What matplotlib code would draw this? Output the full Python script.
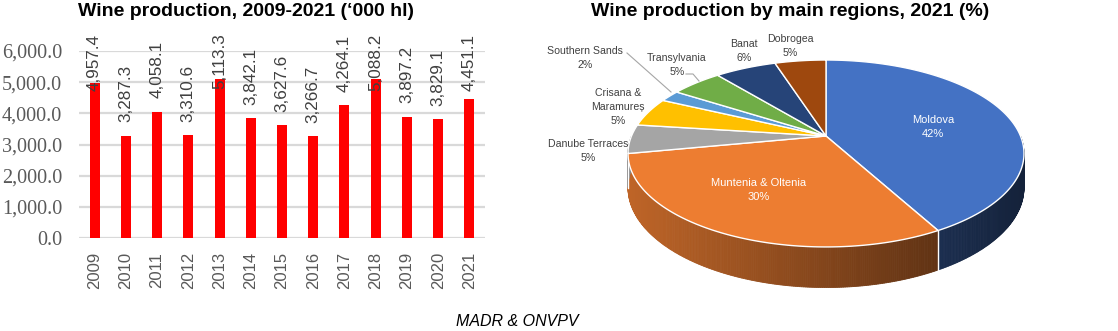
import numpy as np
import matplotlib.pyplot as plt
from matplotlib.ticker import FuncFormatter

# Bar chart data
years = [2009, 2010, 2011, 2012, 2013, 2014, 2015, 2016, 2017, 2018, 2019, 2020, 2021]
production = [4957.4, 3287.3, 4058.1, 3310.6, 5113.3, 3842.1, 3627.6, 3266.7,
              4264.1, 5088.2, 3897.2, 3829.1, 4451.1]

# Pie chart data
regions = ['Moldova', 'Muntenia & Oltenia', 'Danube Terraces', 'Crisana &\nMaramureș',
           'Southern Sands', 'Transylvania', 'Banat', 'Dobrogea']
shares = [42, 30, 5, 5, 2, 5, 6, 5]

# styles
pie_colors = ['#4472C4', '#ED7D31', '#A5A5A5', '#FFC000', '#5B9BD5', '#70AD47', '#264478', '#9E480E']
label_pos = [(933, 127), (759, 190), (588, 151), (618, 107), (585, 58), (677, 65), (744, 51), (790, 46)]
label_inside = [True, True, False, False, False, False, False, False]

W, H = 1118, 331
fig = plt.figure(figsize=(W / 100, H / 100), dpi=100)
sans = ['Liberation Sans', 'DejaVu Sans']

# full-figure overlay in pixel units (titles, pie)
pax = fig.add_axes([0, 0, 1, 1])
pax.set_xlim(0, W)
pax.set_ylim(H, 0)
pax.axis('off')

# ---- bar chart ----
ax = fig.add_axes([79 / W, (H - 238) / H, (485 - 79) / W, (238 - 51) / H])
x = np.arange(len(years))
ax.bar(x, production, width=0.32, color='#ff0000', zorder=3)
ax.set_xlim(-0.5, len(years) - 0.5)
ax.set_ylim(0, 6000)
ax.set_yticks(np.arange(0, 6001, 1000))
ax.yaxis.set_major_formatter(FuncFormatter(lambda v, p: f'{v:,.1f}'))
ax.grid(axis='y', color='#d9d9d9', lw=1.6, zorder=0)
for s in ax.spines.values():
    s.set_visible(False)
ax.tick_params(length=0)
ax.set_xticks(x, [str(y) for y in years], rotation=90)
ax.tick_params(axis='x', pad=10, labelsize=12, labelcolor='#595959')
ax.tick_params(axis='y', pad=12, labelsize=14.5, labelcolor='#595959')
for lbl in ax.get_xticklabels():
    lbl.set_family(sans)
for lbl in ax.get_yticklabels():
    lbl.set_family(['Liberation Serif', 'DejaVu Serif'])

gap, cap, label_len = 420, 6560, 1830
for xi, v in zip(x, production):
    txt = f'{v:,.1f}'
    if v + gap + label_len > cap:
        ax.text(xi, cap, txt, rotation=90, ha='center', va='top', fontsize=12.3,
                color='#404040', family=sans, zorder=4)
    else:
        ax.text(xi, v + gap, txt, rotation=90, ha='center', va='bottom', fontsize=12.3,
                color='#404040', family=sans, zorder=4)

pax.text(246, 11, 'Wine production, 2009-2021 (\u2018000 hl)', ha='center', va='center',
         fontsize=14, fontweight='bold', family=sans)

# ---- 3D-looking pie ----
cx, cy, R, S, k, depth = 826, 136, 194.5, 90.2, 0.187, 33


def proj(t):
    u, v = np.cos(t), np.sin(t)
    d = 1 + k * v
    return cx + R * u / d, cy - S * v / d


def drop(t):
    return depth / (1 + k * np.sin(t))


def shade(color, xpix):
    rgb = np.array(plt.matplotlib.colors.to_rgb(color))
    f = 0.8 - 0.5 * np.clip((xpix - (cx - R)) / (2 * R), 0, 1)
    return tuple(rgb * f)


bounds = 90 - 360 * np.concatenate([[0], np.cumsum(shares)]) / sum(shares)

# side faces (front half only)
for i, col in enumerate(pie_colors):
    a0, a1 = bounds[i], bounds[i + 1]
    hi, lo = min(a0, 0), max(a1, -180)
    if hi <= lo:
        continue
    ts = np.radians(np.linspace(hi, lo, max(int(hi - lo) * 2, 2)))
    for t1, t2 in zip(ts[:-1], ts[1:]):
        x1, y1 = proj(t1)
        x2, y2 = proj(t2)
        c = shade(col, (x1 + x2) / 2)
        pax.fill([x1, x2, x2, x1], [y1, y2, y2 + drop(t2), y1 + drop(t1)],
                 color=c, ec=c, lw=0.6, zorder=2)
# white seams between side faces
for b in bounds:
    if -180 < b < 0:
        t = np.radians(b)
        bx, by = proj(t)
        pax.plot([bx, bx], [by, by + drop(t)], color='white', lw=1, zorder=3)

# top faces
for i, col in enumerate(pie_colors):
    ts = np.radians(np.linspace(bounds[i], bounds[i + 1], 120))
    px, py = proj(ts)
    pax.fill(np.r_[cx, px], np.r_[cy, py], color=col, ec='white', lw=1, zorder=4)

# labels
for i, (name, val) in enumerate(zip(regions, shares)):
    lx, ly = label_pos[i]
    inside = label_inside[i]
    pax.text(lx, ly, f'{name}\n{val}%', ha='center', va='center',
             fontsize=8 if inside else 7.6, linespacing=1.45, family=sans,
             color='white' if inside else '#404040', zorder=6)

# leader lines
pax.plot([627, 671], [53, 92], color='#a6a6a6', lw=0.8, zorder=5)
pax.plot([686, 693, 699], [74, 74, 81], color='#a6a6a6', lw=0.8, zorder=5)

pax.text(790, 12, 'Wine production by main regions, 2021 (%)', ha='center', va='center',
         fontsize=14, fontweight='bold', family=sans)

pax.text(517, 322, 'MADR & ONVPV', ha='center', va='center', fontsize=11.5,
         style='italic', family=sans)

fig.savefig('out.png', dpi=100)
